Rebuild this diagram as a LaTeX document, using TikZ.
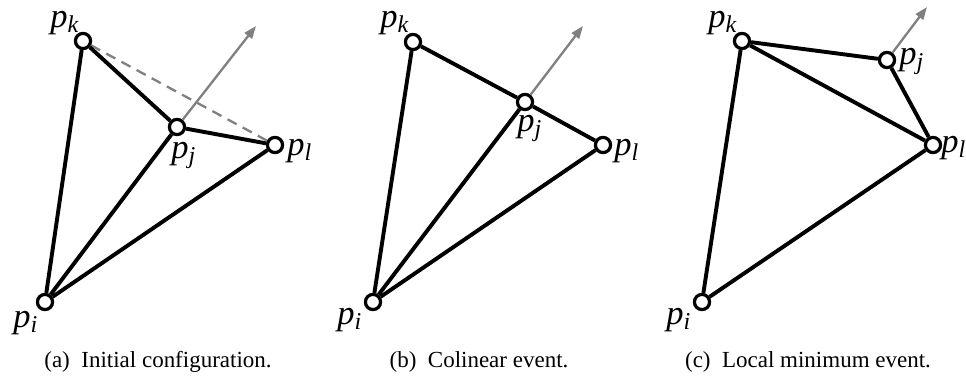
\documentclass[tikz,border=0pt]{standalone}
\usepackage{fontspec}
\setmainfont{Liberation Serif}
\usepackage{tikz}
\usetikzlibrary{arrows.meta,positioning}
\definecolor{motiongray}{rgb}{0.5,0.5,0.5}
\newcommand{\plab}[1]{\textit{p}\textsubscript{\textit{#1}}}

\begin{document}
\begin{tikzpicture}[
    x=0.435pt, y=-0.435pt,
    vtx/.style={circle, draw=black, line width=1.4pt, fill=white, minimum size=6.6pt, inner sep=0pt},
    vlabel/.style={font=\fontsize{15}{17}\selectfont, inner sep=0pt},
    edge/.style={line width=1.7pt},
    motion/.style={draw=motiongray, line width=1pt, -{Triangle[length=5.5pt,width=4pt]}},
    oldedge/.style={draw=motiongray, line width=1pt, dash pattern=on 4.5pt off 3pt},
    subcap/.style={font=\fontsize{10}{12}\selectfont, anchor=base}
]
    \useasboundingbox (0,0) rectangle (966,378);

    % (a) Initial configuration
    \node[vtx] (a_pi) at (45,302) {};
    \node[vtx] (a_pj) at (177,127) {};
    \node[vtx] (a_pk) at (83,41) {};
    \node[vtx] (a_pl) at (275,145) {};
    \coordinate (a_dir) at (256,26);

    \node[vlabel] (a_li) at (26,323) {\plab{i}};
    \node[vlabel] (a_lj) at (184,155) {\plab{j}};
    \node[vlabel] (a_lk) at (65,23) {\plab{k}};
    \node[vlabel] (a_ll) at (300,151) {\plab{l}};

    \draw[oldedge] (a_pk) -- (a_pl);
    \foreach \u/\v in {a_pi/a_pk, a_pi/a_pj, a_pi/a_pl, a_pk/a_pj, a_pj/a_pl} {
        \draw[edge] (\u) -- (\v);
    }
    \draw[motion] (a_pj) -- (a_dir);

    \node[subcap] (a_cap) at (158,368) {(a)\enspace Initial configuration.};

    % (b) Colinear event
    \node[vtx] (b_pi) at (373,302) {};
    \node[vtx] (b_pj) at (525,102) {};
    \node[vtx] (b_pk) at (413,42) {};
    \node[vtx] (b_pl) at (603,145) {};
    \coordinate (b_dir) at (583,26);

    \node[vlabel] (b_li) at (350,320) {\plab{i}};
    \node[vlabel] (b_lj) at (530,128) {\plab{j}};
    \node[vlabel] (b_lk) at (395,23) {\plab{k}};
    \node[vlabel] (b_ll) at (627,151) {\plab{l}};

    \foreach \u/\v in {b_pi/b_pk, b_pi/b_pj, b_pi/b_pl, b_pk/b_pj, b_pj/b_pl} {
        \draw[edge] (\u) -- (\v);
    }
    \draw[motion] (b_pj) -- (b_dir);

    \node[subcap] (b_cap) at (479,368) {(b)\enspace Colinear event.};

    % (c) Local minimum event
    \node[vtx] (c_pi) at (702,302) {};
    \node[vtx] (c_pj) at (887,60) {};
    \node[vtx] (c_pk) at (742,41) {};
    \node[vtx] (c_pl) at (933,145) {};
    \coordinate (c_dir) at (927,7);

    \node[vlabel] (c_li) at (679,320) {\plab{i}};
    \node[vlabel] (c_lj) at (912,61) {\plab{j}};
    \node[vlabel] (c_lk) at (723,23) {\plab{k}};
    \node[vlabel] (c_ll) at (954,148) {\plab{l}};

    \foreach \u/\v in {c_pi/c_pk, c_pi/c_pl, c_pk/c_pl, c_pk/c_pj, c_pj/c_pl} {
        \draw[edge] (\u) -- (\v);
    }
    \draw[motion] (c_pj) -- (c_dir);

    \node[subcap] (c_cap) at (808,368) {(c)\enspace Local minimum event.};

\end{tikzpicture}
\end{document}
